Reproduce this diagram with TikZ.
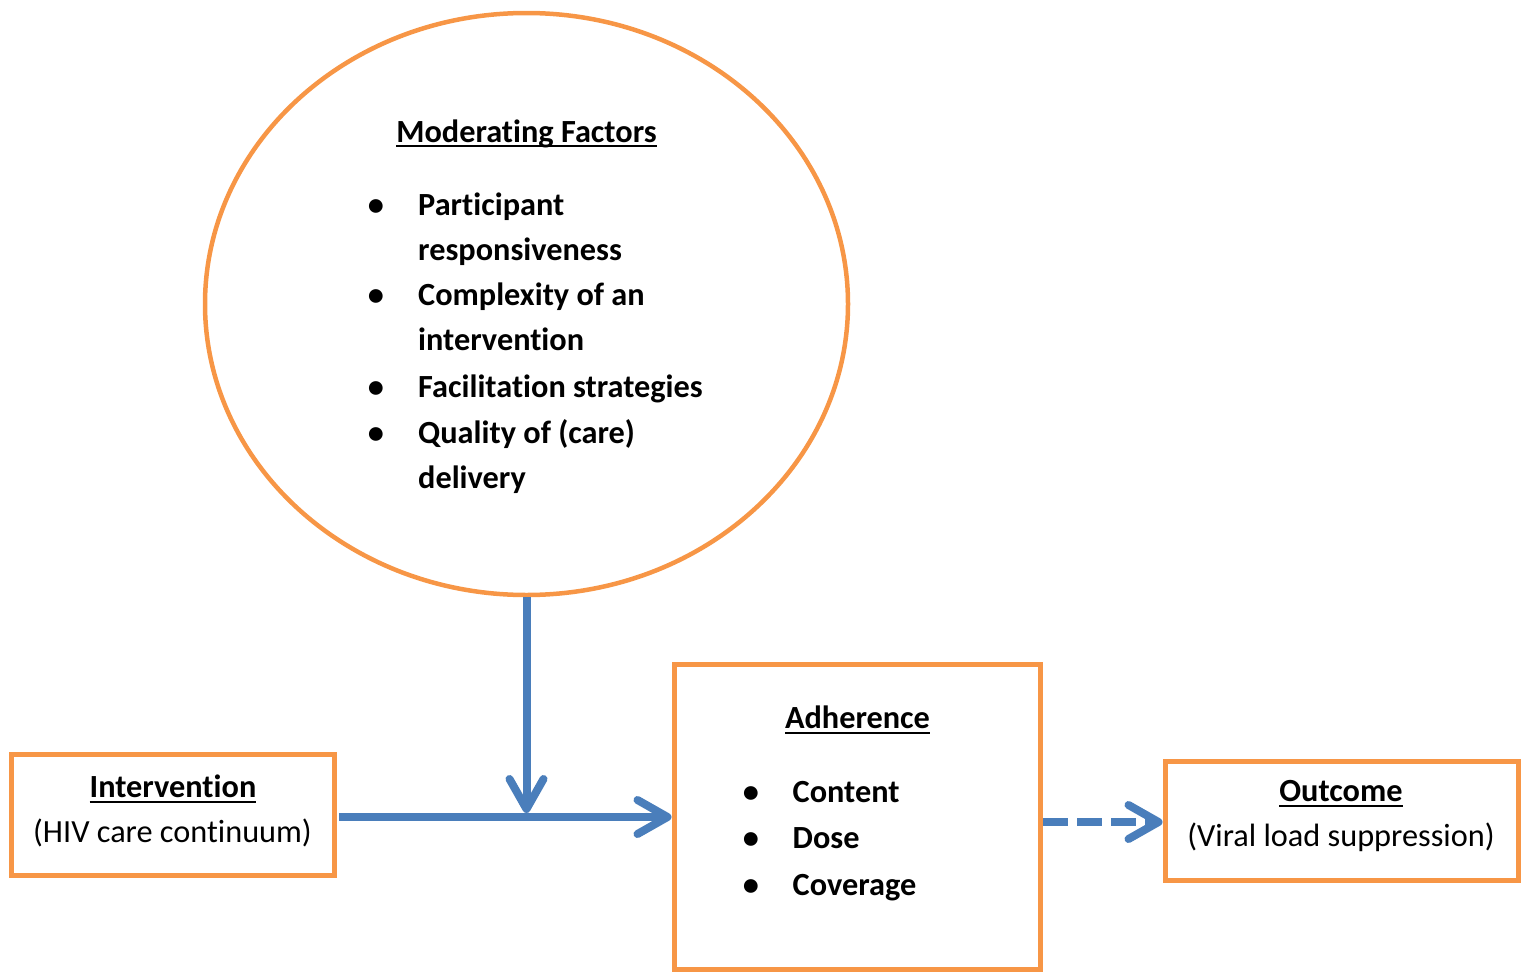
\documentclass[tikz,border=0pt]{standalone}
\usepackage{fontspec}
\setmainfont[Ligatures=NoCommon]{Carlito}
\usetikzlibrary{shapes.geometric,arrows.meta}

\definecolor{boxorange}{HTML}{F79646}
\definecolor{flowblue}{HTML}{4A7EBB}

% underline that crosses descenders, like a word processor's
\newcommand\titleline[1]{\setbox0\hbox{#1}\rlap{\rule[-0.16em]{\wd0}{0.065em}}\box0}

\tikzset{
  txt/.style={font=\fontsize{32.3}{45}\selectfont, inner sep=0pt, anchor=base},
  btxt/.style={txt, font=\fontsize{32.3}{45}\selectfont\bfseries},
  item/.style={btxt, anchor=base west},
  bullet/.style={btxt, anchor=base},
  framebox/.style={draw=boxorange, line width=5pt, rectangle, inner sep=0pt},
  tipshape/.style={-{Straight Barb[length=30pt,width=34pt,round]}},
  flow/.style={draw=flowblue, line width=8pt, tipshape},
}

\begin{document}
\begin{tikzpicture}[x=1pt,y=-1pt]
\useasboundingbox (0,0) rectangle (1521,972);

% moderating factors ellipse
\node[draw=boxorange, line width=4.5pt, ellipse, inner sep=0pt,
      minimum width=643pt, minimum height=582pt] (mod) at (526.5,304) {};
\node[btxt] (modtitle) at (526.5,142) {\titleline{Moderating Factors}};
\node[bullet] (mb1) at (376,215) {\textbullet};
\node[item] (mi1a) at (418,215) {Participant};
\node[item] (mi1b) at (418,260) {responsiveness};
\node[bullet] (mb2) at (376,305) {\textbullet};
\node[item] (mi2a) at (418,305) {Complexity of an};
\node[item] (mi2b) at (418,350) {intervention};
\node[bullet] (mb3) at (376,397) {\textbullet};
\node[item] (mi3) at (418,397) {Facilitation strategies};
\node[bullet] (mb4) at (376,443) {\textbullet};
\node[item] (mi4a) at (418,443) {Quality of (care)};
\node[item] (mi4b) at (418,488) {delivery};

% intervention box
\node[framebox, minimum width=322.5pt, minimum height=121pt] (int) at (172.75,815) {};
\node[btxt] (inttitle) at (173,797.5) {\titleline{Intervention}};
\node[txt] (intsub) at (172.5,842) {(HIV care continuum)};

% adherence box
\node[framebox, minimum width=366.5pt, minimum height=305.5pt] (adh) at (857.25,816.75) {};
\node[btxt] (adhtitle) at (857.5,728.5) {\titleline{Adherence}};
\node[bullet] (ab1) at (751,802) {\textbullet};
\node[item] (ai1) at (792.5,802) {Content};
\node[bullet] (ab2) at (751,848.5) {\textbullet};
\node[item] (ai2) at (792.5,848.5) {Dose};
\node[bullet] (ab3) at (751,895) {\textbullet};
\node[item] (ai3) at (792.5,895) {Coverage};

% outcome box
\node[framebox, minimum width=353pt, minimum height=119.5pt] (out) at (1341.5,820.75) {};
\node[btxt] (outtitle) at (1341,801.5) {\titleline{Outcome}};
\node[txt] (outsub) at (1341,846.5) {(Viral load suppression)};

% connectors
\coordinate (join) at (526.5,813);
\draw[flow] (mod.south) -- (join);
\draw[flow, shorten <=2.5pt] (int.east |- 0,817) -- (adh.west |- 0,817);
\draw[flow, dash pattern=on 25pt off 9pt] (adh.east |- 0,822) -- (out.west |- 0,822);
\end{tikzpicture}
\end{document}
